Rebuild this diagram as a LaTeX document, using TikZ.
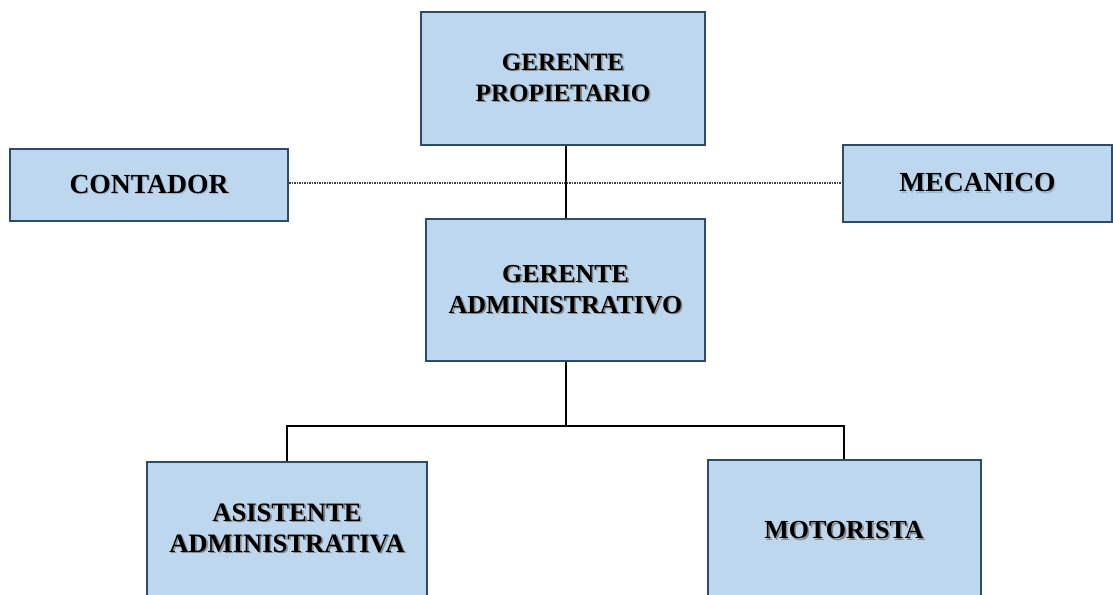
\documentclass[tikz,border=0pt]{standalone}
\usepackage{fontspec}
\setmainfont{Liberation Serif}
\definecolor{boxfill}{HTML}{BDD7EE}
\definecolor{boxline}{HTML}{2F4B6B}
\definecolor{shadowgray}{HTML}{8A8A8A}
\definecolor{faintgray}{HTML}{9FB3C8}
\newcommand\shline[1]{\leavevmode\rlap{\hspace{1.6pt}\raisebox{-1.6pt}{\textcolor{shadowgray}{#1}}}#1}
\newcommand\fshline[1]{\leavevmode\rlap{\hspace{1.2pt}\raisebox{-1.2pt}{\textcolor{faintgray}{#1}}}#1}
\begin{document}
\begin{tikzpicture}[x=1pt,y=-1pt,
  orgbox/.style={draw=boxline, line width=2pt, fill=boxfill, inner sep=0pt,
    font=\fontsize{25}{31}\selectfont\bfseries, align=center, text=black},
  fs/.style={font=\fontsize{#1}{31}\selectfont\bfseries},
  conn/.style={line width=2pt, black},
  dotline/.style={line width=1.4pt, black!75, dash pattern=on 1.5pt off 1pt}]
\useasboundingbox (0,0) rectangle (1113,594);
\clip (0,0) rectangle (1113,594);
\fill[white] (0,0) rectangle (1113,594);
\node[orgbox, minimum width=284pt, minimum height=133pt] (gp) at (563,78.5) {\shline{GERENTE}\\\shline{PROPIETARIO}};
\node[orgbox, fs=27.6, minimum width=278pt, minimum height=72pt] (cont) at (149,185) {\fshline{CONTADOR}};
\node[orgbox, fs=27.6, minimum width=269pt, minimum height=77pt] (mec) at (977.5,183.5) {\fshline{MECANICO}};
\node[orgbox, fs=25.9, minimum width=279pt, minimum height=142pt] (ga) at (565.5,290) {\shline{GERENTE}\\\shline{ADMINISTRATIVO}};
\node[orgbox, fs=26.6, minimum width=280pt, minimum height=134pt] (asis) at (287,529) {\shline{ASISTENTE}\\\shline{ADMINISTRATIVA}};
\node[orgbox, fs=26, minimum width=273pt, minimum height=142pt] (mot) at (844,531) {\shline{MOTORISTA}};
\coordinate (bus) at (565,426);
\draw[dotline] (cont.east |- 0,183) -- (mec.west |- 0,183);
\draw[conn] (ga.north) -- (ga.north |- gp.south);
\draw[conn] (ga.south) -- (ga.south |- bus);
\draw[conn] (asis.north) |- (bus) -| (mot.north);
\end{tikzpicture}
\end{document}
